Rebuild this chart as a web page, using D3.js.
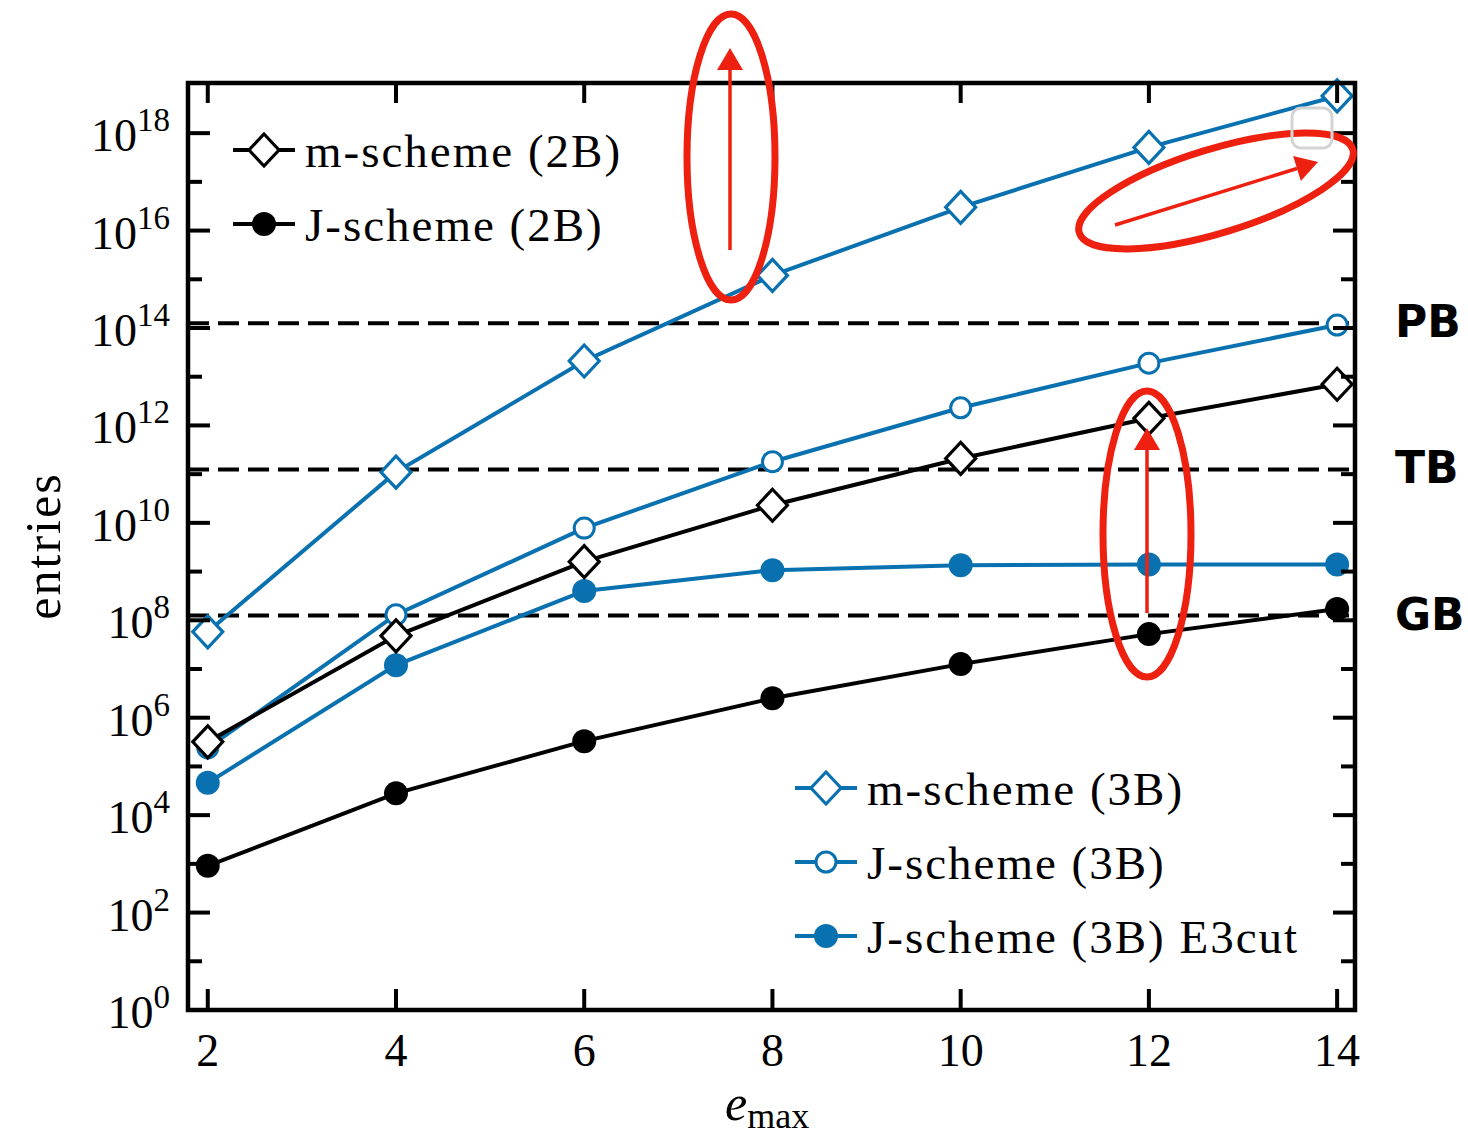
<!DOCTYPE html>
<html>
<head>
<meta charset="utf-8">
<script src="https://cdn.jsdelivr.net/npm/d3@7"></script>
<style>
  body { margin: 0; background: #fff; }
  svg { display: block; }
</style>
</head>
<body>
<script>
// data
const emax = [2, 4, 6, 8, 10, 12, 14];
const mScheme3B = [5.8e7, 1.1e11, 2.1e13, 1.2e15, 3.0e16, 5.1e17, 5.8e18];
const jScheme3B = [2.4e5, 1.3e8, 7.8e9, 1.8e11, 2.3e12, 1.9e13, 1.15e14];
const jScheme3BE3cut = [4.6e4, 1.2e7, 4.0e8, 1.07e9, 1.35e9, 1.4e9, 1.4e9];
const mScheme2B = [3.2e5, 4.8e7, 1.6e9, 2.3e10, 2.1e11, 1.4e12, 7.0e12];
const jScheme2B = [9.1e2, 2.8e4, 3.3e5, 2.5e6, 1.26e7, 5.2e7, 1.7e8];

const limitNames = ["GB", "TB", "PB"];
const limitValues = [1.25e8, 1.25e11, 1.25e14];

const majorExp = [0, 2, 4, 6, 8, 10, 12, 14, 16, 18];
const minorExp = [1, 3, 5, 7, 9, 11, 13, 15, 17];

//Width and height
const w = 1468;
const h = 1141;
const pLeft = 188, pRight = 1355, pTop = 83, pBottom = 1010;

const blue = "#0a71b0";
const red = "#ee2010";
const serif = "'Liberation Serif', 'Times New Roman', serif";

const x = d3.scaleLinear().domain([1.79, 14.19]).range([pLeft, pRight]);
const y = d3.scaleLog().domain([1, 1.07e19]).range([pBottom, pTop]);

const svg = d3.select("body").append("svg").attr("width", w).attr("height", h);

// dashed memory limits
svg
  .selectAll("line.limit")
  .data(limitValues)
  .enter()
  .append("line")
  .attr("class", "limit")
  .attr("x1", pLeft)
  .attr("x2", pRight)
  .attr("y1", (d) => y(d))
  .attr("y2", (d) => y(d))
  .attr("stroke", "#000")
  .attr("stroke-width", 4)
  .attr("stroke-dasharray", "21,9");

svg
  .selectAll("text.limit")
  .data(limitValues)
  .enter()
  .append("text")
  .attr("class", "limit")
  .attr("x", 1395)
  .attr("y", (d) => y(d) + 14)
  .attr("font-family", "'DejaVu Sans', sans-serif")
  .attr("font-weight", "bold")
  .attr("font-size", 44)
  .text((d, i) => limitNames[i]);

// series
const series = [
  { values: mScheme3B, color: blue, marker: "diamond", fill: "#fff" },
  { values: jScheme3B, color: blue, marker: "circle", fill: "#fff" },
  { values: jScheme3BE3cut, color: blue, marker: "circle", fill: blue },
  { values: mScheme2B, color: "#000", marker: "diamond", fill: "#fff" },
  { values: jScheme2B, color: "#000", marker: "circle", fill: "#000" },
];

const line = d3
  .line()
  .x((d) => x(d[0]))
  .y((d) => y(d[1]));

function drawMarker(g, kind, color, fill, cx, cy) {
  if (kind === "diamond") {
    g.append("path")
      .attr("d", `M${cx},${cy - 16}L${cx + 15},${cy}L${cx},${cy + 16}L${cx - 15},${cy}Z`)
      .attr("fill", fill)
      .attr("stroke", color)
      .attr("stroke-width", 3.2);
  } else if (fill === "#fff") {
    g.append("circle")
      .attr("cx", cx)
      .attr("cy", cy)
      .attr("r", 10)
      .attr("fill", fill)
      .attr("stroke", color)
      .attr("stroke-width", 3);
  } else {
    g.append("circle")
      .attr("cx", cx)
      .attr("cy", cy)
      .attr("r", 12)
      .attr("fill", fill);
  }
}

series.forEach((s) => {
  const pts = emax.map((e, i) => [e, s.values[i]]);
  const g = svg.append("g");
  g.append("path")
    .attr("d", line(pts))
    .attr("fill", "none")
    .attr("stroke", s.color)
    .attr("stroke-width", 4);
  pts.forEach((p) => drawMarker(g, s.marker, s.color, s.fill, x(p[0]), y(p[1])));
});

// frame
svg
  .append("rect")
  .attr("x", pLeft)
  .attr("y", pTop)
  .attr("width", pRight - pLeft)
  .attr("height", pBottom - pTop)
  .attr("fill", "none")
  .attr("stroke", "#000")
  .attr("stroke-width", 4.5);

// ticks pointing inward on all four sides
const ticks = svg.append("g").attr("stroke", "#000").attr("stroke-width", 4);
emax.forEach((e) => {
  ticks.append("line").attr("x1", x(e)).attr("x2", x(e)).attr("y1", pBottom).attr("y2", pBottom - 21);
  ticks.append("line").attr("x1", x(e)).attr("x2", x(e)).attr("y1", pTop).attr("y2", pTop + 20);
});
majorExp.forEach((k) => {
  const yy = y(Math.pow(10, k));
  ticks.append("line").attr("x1", pLeft).attr("x2", pLeft + 22).attr("y1", yy).attr("y2", yy);
  ticks.append("line").attr("x1", pRight).attr("x2", pRight - 22).attr("y1", yy).attr("y2", yy);
});
minorExp.forEach((k) => {
  const yy = y(Math.pow(10, k));
  ticks.append("line").attr("x1", pLeft).attr("x2", pLeft + 14).attr("y1", yy).attr("y2", yy);
  ticks.append("line").attr("x1", pRight).attr("x2", pRight - 14).attr("y1", yy).attr("y2", yy);
});

// tick labels
svg
  .selectAll("text.xtick")
  .data(emax)
  .enter()
  .append("text")
  .attr("class", "xtick")
  .attr("x", (d) => x(d))
  .attr("y", 1066)
  .attr("text-anchor", "middle")
  .attr("font-family", serif)
  .attr("font-size", 46)
  .text((d) => d);

const ylab = svg
  .selectAll("text.ytick")
  .data(majorExp)
  .enter()
  .append("text")
  .attr("class", "ytick")
  .attr("x", 170)
  .attr("y", (d) => y(Math.pow(10, d)) + 18)
  .attr("text-anchor", "end")
  .attr("font-family", serif)
  .attr("font-size", 46);
ylab.append("tspan").text("10");
ylab
  .append("tspan")
  .attr("dy", -20)
  .attr("font-size", 33)
  .text((d) => d);

// axis titles
svg
  .append("text")
  .attr("transform", "translate(60,546) rotate(-90)")
  .attr("text-anchor", "middle")
  .attr("font-family", serif)
  .attr("font-size", 50)
  .attr("letter-spacing", 2)
  .text("entries");

const xt = svg
  .append("text")
  .attr("x", 725)
  .attr("y", 1120)
  .attr("font-family", serif)
  .attr("font-size", 50);
xt.append("tspan").attr("font-style", "italic").text("e");
xt.append("tspan").attr("dy", 8).attr("font-size", 36).text("max");

// legends
const legend2B = [
  { label: "m-scheme (2B)", color: "#000", marker: "diamond", fill: "#fff" },
  { label: "J-scheme (2B)", color: "#000", marker: "circle", fill: "#000" },
];
const legend3B = [
  { label: "m-scheme (3B)", color: blue, marker: "diamond", fill: "#fff" },
  { label: "J-scheme (3B)", color: blue, marker: "circle", fill: "#fff" },
  { label: "J-scheme (3B) E3cut", color: blue, marker: "circle", fill: blue },
];

function drawLegend(items, x0, y0, step) {
  items.forEach((d, i) => {
    const g = svg.append("g");
    const cy = y0 + i * step;
    g.append("line")
      .attr("x1", x0)
      .attr("x2", x0 + 62)
      .attr("y1", cy)
      .attr("y2", cy)
      .attr("stroke", d.color)
      .attr("stroke-width", 4);
    drawMarker(g, d.marker, d.color, d.fill, x0 + 31, cy);
    g.append("text")
      .attr("x", x0 + 72)
      .attr("y", cy + 17)
      .attr("font-family", serif)
      .attr("font-size", 47)
      .attr("letter-spacing", 2)
      .text(d.label);
  });
}
drawLegend(legend2B, 233, 150, 74);
drawLegend(legend3B, 795, 788, 74);

// red hand-drawn annotations
const notes = svg.append("g");
notes
  .append("ellipse")
  .attr("cx", 731)
  .attr("cy", 157)
  .attr("rx", 44)
  .attr("ry", 143)
  .attr("fill", "none")
  .attr("stroke", red)
  .attr("stroke-width", 7);
notes
  .append("ellipse")
  .attr("transform", "translate(1216,191) rotate(-17)")
  .attr("rx", 143)
  .attr("ry", 42)
  .attr("fill", "none")
  .attr("stroke", red)
  .attr("stroke-width", 7);
notes
  .append("ellipse")
  .attr("cx", 1147)
  .attr("cy", 534)
  .attr("rx", 44)
  .attr("ry", 143)
  .attr("fill", "none")
  .attr("stroke", red)
  .attr("stroke-width", 7);

function arrow(x1, y1, x2, y2) {
  const a = Math.atan2(y2 - y1, x2 - x1);
  const len = 22, hw = 13;
  const bx = x2 - len * Math.cos(a), by = y2 - len * Math.sin(a);
  notes
    .append("line")
    .attr("x1", x1)
    .attr("y1", y1)
    .attr("x2", bx)
    .attr("y2", by)
    .attr("stroke", red)
    .attr("stroke-width", 3.5);
  notes
    .append("path")
    .attr(
      "d",
      `M${x2},${y2}L${bx + hw * Math.sin(a)},${by - hw * Math.cos(a)}L${bx - hw * Math.sin(a)},${by + hw * Math.cos(a)}Z`
    )
    .attr("fill", red);
}
arrow(730, 250, 730, 48);
arrow(1115, 225, 1318, 162);
arrow(1147, 613, 1147, 428);

// faint grey box near the top right
svg
  .append("rect")
  .attr("x", 1292)
  .attr("y", 108)
  .attr("width", 40)
  .attr("height", 40)
  .attr("rx", 9)
  .attr("fill", "none")
  .attr("stroke", "#d4d4d4")
  .attr("stroke-width", 3);
</script>
</body>
</html>
